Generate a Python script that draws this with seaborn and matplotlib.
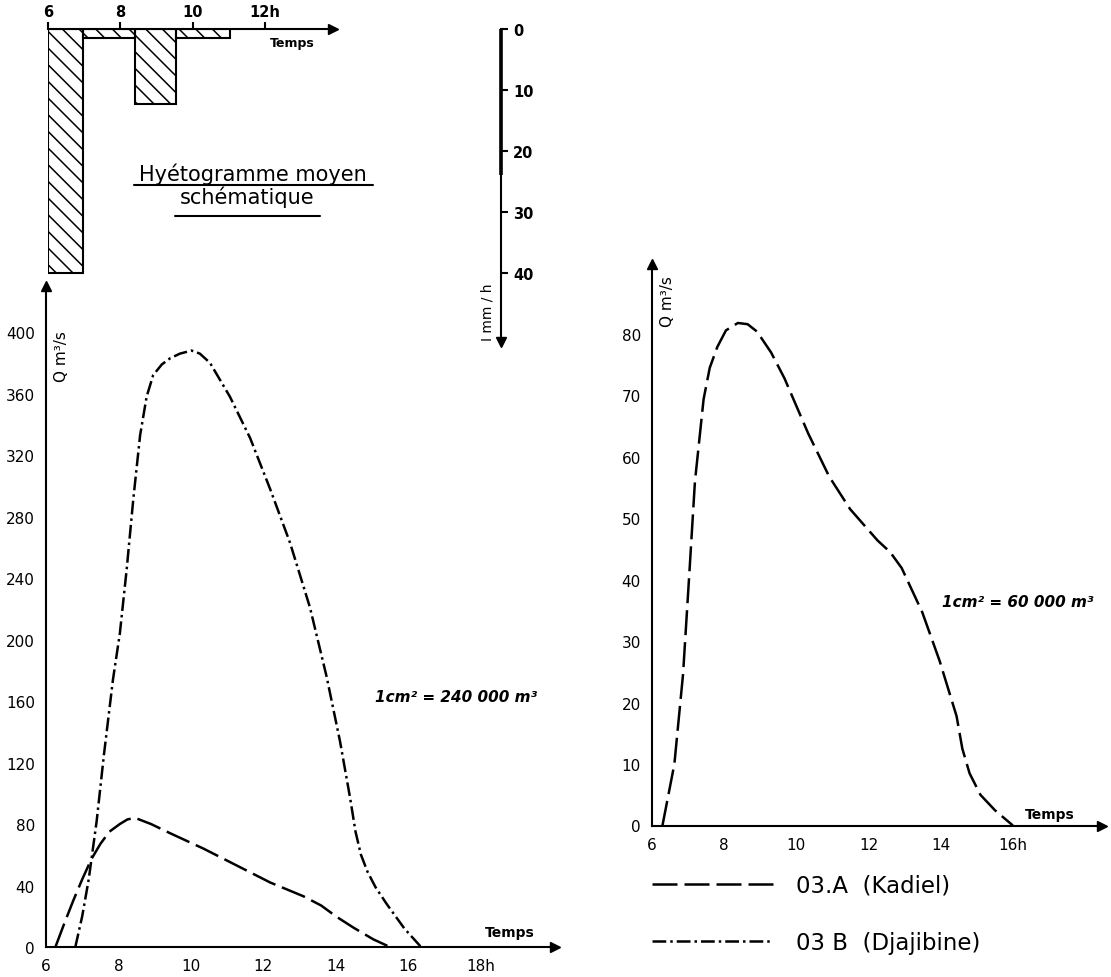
import numpy as np
import pandas as pd
import matplotlib
matplotlib.use("Agg")
import matplotlib.pyplot as plt
from matplotlib.lines import Line2D
import seaborn as sns

sns.set_style("white")
plt.rcParams['font.family'] = ['DejaVu Sans']
plt.rcParams['hatch.linewidth'] = 1.1
for k in ["text.color", "axes.labelcolor", "xtick.color", "ytick.color"]:
    plt.rcParams[k] = "black"

# hyetogramme moyen schematique (mm/h)
pluie_debut = [6.0, 6.97, 8.4, 9.54]
pluie_fin = [6.97, 8.4, 9.54, 11.03]
pluie_int = [40.0, 1.5, 12.3, 1.4]

# 03.A (Kadiel) - graphique de gauche
t_a = [6.26, 6.5, 6.75, 7.0, 7.25, 7.5, 7.75, 8.04, 8.25, 8.46, 8.9, 9.43,
       10.35, 11.27, 12.19, 13.11, 13.6, 14.03, 14.5, 15.04, 15.5]
q_a = [0, 15, 30, 44, 57, 67, 75, 80, 83, 84, 80, 74, 64, 53, 42, 33, 27,
       19.6, 12.5, 5, 0]

# 03 B (Djajibine)
t_b = [6.81, 7.0, 7.18, 7.4, 7.6, 7.85, 8.04, 8.23, 8.41, 8.6, 8.78, 8.96,
       9.2, 9.43, 9.7, 10.02, 10.25, 10.53, 11.08, 11.64, 12.19, 12.74, 13.29,
       13.75, 14.12, 14.4, 14.55, 14.7, 14.88, 15.1, 15.41, 15.9, 16.36]
q_b = [0, 20, 44, 82, 125, 174, 204, 246, 291, 333, 358, 372, 379, 383, 386,
       388, 386, 380, 358, 331, 298, 263, 221, 176, 134, 97, 75, 60, 49, 39,
       28, 12, 0]

# 03.A (Kadiel) - graphique de droite
t_r = [6.29, 6.62, 6.86, 7.05, 7.19, 7.43, 7.6, 7.81, 8.05, 8.38, 8.65, 8.91,
       9.3, 9.67, 10.33, 10.91, 11.49, 12.25, 12.6, 12.92, 13.49, 13.97,
       14.44, 14.6, 14.8, 15.1, 15.5, 16.0]
q_r = [0, 10, 24.6, 42.5, 56, 69.4, 74.5, 77.9, 80.6, 81.8, 81.6, 80.4, 77,
       72.8, 63.8, 56.8, 51.5, 46.4, 44.5, 41.9, 34.7, 26.8, 17.8, 12.5, 8.5,
       5, 2.5, 0]

dash_a = (10, 2.8)
dash_b = (5.5, 1.6, 1, 1.6)

W, H = 1111, 978


def box(x0, y0, x1, y1):
    return [x0 / W, 1 - y1 / H, (x1 - x0) / W, (y1 - y0) / H]


def axes_fleches(ax):
    for s in ["top", "right"]:
        ax.spines[s].set_visible(False)
    for s in ["left", "bottom"]:
        ax.spines[s].set_linewidth(1.5)
        ax.spines[s].set_color("black")
    ax.plot(1, 0, ">k", ms=7, transform=ax.get_yaxis_transform(), clip_on=False)
    ax.plot(0, 1, "^k", ms=7, transform=ax.transAxes, clip_on=False)


fig = plt.figure(figsize=(W / 100, H / 100), dpi=100)
fig.patch.set_facecolor("white")

tick_kw = dict(direction="out", length=5, width=1.5, labelsize=11, pad=3)

# ---- left hydrographs
ax_l = fig.add_axes(box(46, 287, 555, 948))
ax_l.patch.set_alpha(0)
df = pd.concat([
    pd.DataFrame({"t": t_a, "q": q_a, "st": "03.A"}),
    pd.DataFrame({"t": t_b, "q": q_b, "st": "03 B"}),
])
sns.lineplot(data=df, x="t", y="q", style="st",
             dashes={"03.A": dash_a, "03 B": dash_b}, color="k", lw=1.8,
             estimator=None, sort=False, legend=False, ax=ax_l)
ax_l.set_xlim(6, 20.06)
ax_l.set_ylim(0, 430)
ax_l.set_xticks(range(6, 19, 2))
ax_l.set_xticklabels(["6", "8", "10", "12", "14", "16", "18h"])
ax_l.set_yticks(range(0, 401, 40))
ax_l.set_xlabel("")
ax_l.set_ylabel("")
ax_l.tick_params(**tick_kw)
axes_fleches(ax_l)
ax_l.text(6.44, 385, "Q m³/s", rotation=90, ha="center", va="center", fontsize=11)
ax_l.text(18.8, 5, "Temps", ha="center", va="bottom", fontsize=10, fontweight="bold")
ax_l.text(15.09, 163, "1cm² = 240 000 m³", ha="left", va="center", fontsize=11,
          fontweight="bold", style="italic")

# ---- right hydrograph
ax_r = fig.add_axes(box(652, 265, 1102, 826.5))
ax_r.patch.set_alpha(0)
sns.lineplot(x=t_r, y=q_r, color="k", lw=1.8, estimator=None, sort=False, ax=ax_r)
ax_r.lines[0].set_dashes(dash_a)
ax_r.set_xlim(6, 18.47)
ax_r.set_ylim(0, 91.4)
ax_r.set_xticks(range(6, 17, 2))
ax_r.set_xticklabels(["6", "8", "10", "12", "14", "16h"])
ax_r.set_yticks(range(0, 81, 10))
ax_r.tick_params(**tick_kw)
axes_fleches(ax_r)
ax_r.text(6.42, 85.4, "Q m³/s", rotation=90, ha="center", va="center", fontsize=11)
ax_r.text(17.02, 0.8, "Temps", ha="center", va="bottom", fontsize=10, fontweight="bold")
ax_r.text(14.03, 36.4, "1cm² = 60 000 m³", ha="left", va="center", fontsize=11,
          fontweight="bold", style="italic")

# ---- hyetogram
ax_h = fig.add_axes(box(48, 30, 518.6, 343))
ax_h.patch.set_alpha(0)
ax_h.bar(pluie_debut, pluie_int, width=np.subtract(pluie_fin, pluie_debut),
         align="edge", fill=False, hatch="\\\\", edgecolor="k", lw=1.5)
ax_h.set_xlim(6, 19)
ax_h.set_ylim(51.3, 0)
for s in ["left", "bottom"]:
    ax_h.spines[s].set_visible(False)
ax_h.spines["top"].set_bounds(6, 13.87)
ax_h.spines["right"].set_position(("data", 18.51))
for s in ["top", "right"]:
    ax_h.spines[s].set_linewidth(1.5)
    ax_h.spines[s].set_color("black")
ax_h.xaxis.tick_top()
ax_h.set_xticks(range(6, 13, 2))
ax_h.set_xticklabels(["6", "8", "10", "12h"], fontweight="bold")
ax_h.yaxis.tick_right()
ax_h.set_yticks(range(0, 41, 10))
ax_h.set_yticklabels(["0", "10", "20", "30", "40"], fontweight="bold")
ax_h.tick_params(axis="x", direction="out", length=5, width=1.5, labelsize=10.5, pad=2)
ax_h.tick_params(axis="y", direction="out", length=5, width=1.5, labelsize=10.5, pad=4)
ax_h.plot([18.51, 18.51], [0, 24], color="k", lw=2.6, solid_capstyle="butt")
ax_h.plot(13.87, 0, ">k", ms=7, clip_on=False)
ax_h.plot(18.51, 51.3, "vk", ms=7, clip_on=False)
ax_h.text(12.74, 1.2, "Temps", ha="center", va="top", fontsize=9, fontweight="bold")
ax_h.text(18.15, 46.2, "I mm / h", rotation=90, ha="center", va="center", fontsize=10)
ax_h.text(11.66, 23.6, "Hyétogramme moyen", ha="center", va="center", fontsize=15)
ax_h.text(11.5, 27.4, "schématique", ha="center", va="center", fontsize=15)
ax_h.plot([8.37, 14.97], [25.6, 25.6], color="k", lw=1.5)
ax_h.plot([9.5, 13.52], [30.6, 30.6], color="k", lw=1.5)

# ---- legend
handles = [Line2D([], [], color="k", lw=1.8, dashes=dash_a),
           Line2D([], [], color="k", lw=1.8, dashes=dash_b)]
fig.legend(handles, ["03.A  (Kadiel)", "03 B  (Djajibine)"], loc="upper left",
           bbox_to_anchor=(652 / W, 1 - 875 / H), frameon=False, fontsize=16.5,
           handlelength=5.3, handletextpad=1.0, labelspacing=1.5, borderpad=0,
           borderaxespad=0)

fig.savefig("out.png", dpi=100, facecolor="white")
